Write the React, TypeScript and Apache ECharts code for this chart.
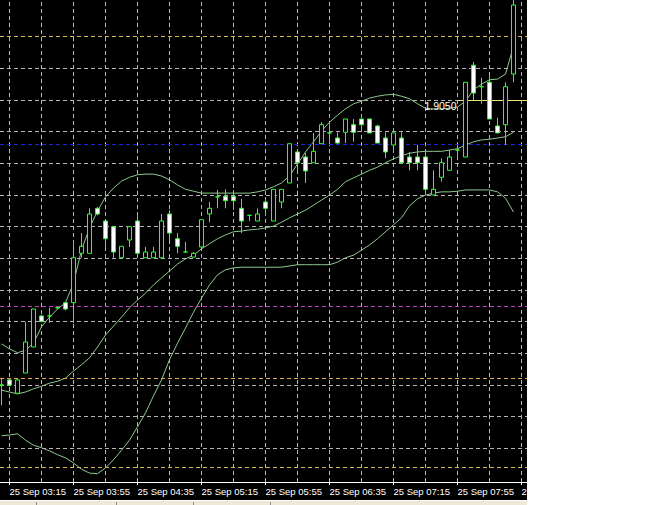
import React, { useEffect, useRef } from "react";
import * as echarts from "echarts";

// 5-minute candles, 25 Sep
const times = [
  "03:10", "03:15", "03:20", "03:25", "03:30", "03:35", "03:40", "03:45", "03:50", "03:55",
  "04:00", "04:05", "04:10", "04:15", "04:20", "04:25", "04:30", "04:35", "04:40", "04:45",
  "04:50", "04:55", "05:00", "05:05", "05:10", "05:15", "05:20", "05:25", "05:30", "05:35",
  "05:40", "05:45", "05:50", "05:55", "06:00", "06:05", "06:10", "06:15", "06:20", "06:25",
  "06:30", "06:35", "06:40", "06:45", "06:50", "06:55", "07:00", "07:05", "07:10", "07:15",
  "07:20", "07:25", "07:30", "07:35", "07:40", "07:45", "07:50", "07:55", "08:00", "08:05",
  "08:10", "08:15", "08:20", "08:25", "08:30",
];

const opens = [
  1.9005, 1.90058, 1.90037, 1.90069, 1.9011, 1.90159, 1.90159, 1.90172, 1.9018, 1.9018,
  1.90258, 1.90258, 1.90329, 1.90309, 1.903, 1.90251, 1.90279, 1.90309, 1.90251, 1.90251,
  1.90251, 1.9032, 1.90281, 1.9026, 1.90252, 1.90268, 1.9032, 1.90347, 1.90348, 1.90348,
  1.90329, 1.90318, 1.90309, 1.90339, 1.90309, 1.90339, 1.90369, 1.90418, 1.9041, 1.90401,
  1.90431, 1.90448, 1.9044, 1.90449, 1.90461, 1.9047, 1.9047, 1.90459, 1.9044, 1.90429,
  1.9044, 1.9041, 1.9041, 1.9041, 1.9035, 1.90378, 1.90389, 1.90421, 1.9041, 1.90555,
  1.90521, 1.90528, 1.90459, 1.90461, 1.90541,
];
const closes = [
  1.9005, 1.9005, 1.90058, 1.90118, 1.9017, 1.9015, 1.90159, 1.90172, 1.9017, 1.90251,
  1.90269, 1.9032, 1.9032, 1.90281, 1.9026, 1.90269, 1.903, 1.90258, 1.9026, 1.9026,
  1.90309, 1.9029, 1.90269, 1.9026, 1.90258, 1.90311, 1.90329, 1.90347, 1.90341, 1.90341,
  1.90309, 1.90318, 1.9032, 1.90329, 1.90359, 1.90359, 1.90431, 1.90401, 1.90388, 1.90419,
  1.90461, 1.90448, 1.90432, 1.9047, 1.90449, 1.90461, 1.90448, 1.90432, 1.90418, 1.90448,
  1.90401, 1.90401, 1.90401, 1.90359, 1.90359, 1.90401, 1.9041, 1.90421, 1.90528, 1.90511,
  1.90521, 1.9047, 1.90448, 1.90521, 1.9065,
];
const lows = [
  1.90018, 1.90048, 1.90037, 1.90069, 1.9011, 1.9015, 1.90148, 1.9017, 1.90168, 1.90148,
  1.90251, 1.90258, 1.90318, 1.90268, 1.90251, 1.90251, 1.90268, 1.90251, 1.90251, 1.90251,
  1.90251, 1.90279, 1.90258, 1.9026, 1.90251, 1.90268, 1.90307, 1.90329, 1.90329, 1.90326,
  1.9029, 1.90309, 1.90309, 1.90318, 1.90309, 1.90329, 1.90369, 1.90389, 1.90369, 1.90401,
  1.90431, 1.90434, 1.90431, 1.90432, 1.90434, 1.90449, 1.90448, 1.90432, 1.90408, 1.90419,
  1.90401, 1.90389, 1.90389, 1.9035, 1.9035, 1.90371, 1.90389, 1.9041, 1.9041, 1.905,
  1.90494, 1.9047, 1.90448, 1.90429, 1.90528,
];
const highs = [
  1.9006, 1.9006, 1.90061, 1.9015, 1.9017, 1.90161, 1.90172, 1.90173, 1.90181, 1.90279,
  1.9029, 1.90329, 1.90331, 1.90311, 1.903, 1.90269, 1.90301, 1.90318, 1.90268, 1.90268,
  1.9032, 1.90326, 1.9029, 1.90276, 1.9026, 1.90311, 1.90339, 1.90358, 1.90359, 1.90358,
  1.90344, 1.90318, 1.90329, 1.90347, 1.90359, 1.90359, 1.90431, 1.90419, 1.90416, 1.90448,
  1.90465, 1.90465, 1.90449, 1.9047, 1.9047, 1.9047, 1.9047, 1.90461, 1.90449, 1.90448,
  1.90449, 1.90418, 1.90429, 1.90418, 1.90389, 1.90408, 1.90421, 1.90429, 1.90528, 1.9056,
  1.90535, 1.90539, 1.90472, 1.90528, 1.90658,
];

// Bollinger bands
const upperBand = [
  1.90115, 1.90107, 1.90101, 1.90105, 1.90116, 1.90142, 1.90157, 1.9017, 1.9018, 1.90211,
  1.90263, 1.90298, 1.90325, 1.90347, 1.90361, 1.90372, 1.90378, 1.90382, 1.90383, 1.90383,
  1.9038, 1.90374, 1.90366, 1.90359, 1.90356, 1.90353, 1.90353, 1.90353, 1.90353, 1.90353,
  1.90353, 1.90353, 1.90355, 1.90358, 1.90363, 1.90369, 1.9038, 1.90399, 1.90418, 1.90434,
  1.90451, 1.90465, 1.90476, 1.90486, 1.90494, 1.90498, 1.90503, 1.90506, 1.90508, 1.90509,
  1.90506, 1.90502, 1.90494, 1.90487, 1.90486, 1.90486, 1.90487, 1.90489, 1.90498, 1.90516,
  1.90525, 1.90532, 1.90533, 1.90541, 1.90585,
];
const middleBand = [
  1.90042, 1.90039, 1.90036, 1.90039, 1.90044, 1.90048, 1.90053, 1.90056, 1.90061, 1.90072,
  1.90082, 1.90093, 1.9011, 1.90129, 1.90143, 1.90157, 1.90172, 1.90184, 1.90195, 1.90208,
  1.90219, 1.9023, 1.90241, 1.90249, 1.90255, 1.90265, 1.90273, 1.90281, 1.90287, 1.90292,
  1.90293, 1.90295, 1.90296, 1.90298, 1.90301, 1.90307, 1.90314, 1.9032, 1.90326, 1.90334,
  1.90342, 1.9035, 1.90359, 1.90371, 1.90377, 1.90383, 1.90389, 1.90394, 1.90401, 1.90407,
  1.90412, 1.90416, 1.90418, 1.90419, 1.90419, 1.90419, 1.90421, 1.90423, 1.90429, 1.90434,
  1.90437, 1.90438, 1.9044, 1.90442, 1.90449,
];
const lowerBand = [
  1.8997, 1.89971, 1.89973, 1.89963, 1.89955, 1.89951, 1.89946, 1.8994, 1.89935, 1.89927,
  1.89917, 1.89911, 1.8991, 1.89919, 1.89932, 1.89947, 1.89963, 1.89984, 1.90006, 1.90033,
  1.90058, 1.9009, 1.90116, 1.9014, 1.90165, 1.90187, 1.90208, 1.90224, 1.90232, 1.90235,
  1.90236, 1.90236, 1.90236, 1.90236, 1.90236, 1.90236, 1.90238, 1.9024, 1.9024, 1.9024,
  1.9024, 1.9024, 1.90244, 1.90251, 1.90255, 1.90263, 1.90271, 1.90281, 1.90292, 1.90303,
  1.90314, 1.90333, 1.90344, 1.9035, 1.90353, 1.90355, 1.90355, 1.90356, 1.90358, 1.90358,
  1.90358, 1.90358, 1.90355, 1.90345, 1.90323,
];

// axis ticks / grid
const labelTimes = ["03:15", "03:55", "04:35", "05:15", "05:55", "06:35", "07:15", "07:55", "08:35"];
const gridTimes = [
  "03:15", "03:35", "03:55", "04:15", "04:35", "04:55", "05:15", "05:35", "05:55",
  "06:15", "06:35", "06:55", "07:15", "07:35", "07:55", "08:15", "08:35",
];
const gridPrices = [
  1.906, 1.9055, 1.905, 1.9045, 1.904, 1.9035, 1.903, 1.9025, 1.902, 1.9015,
  1.901, 1.9005, 1.9, 1.8995,
];

// drawn level lines
const orangeLevels = [1.906, 1.9006, 1.8992];
const blueLevel = 1.9043;
const magentaLevel = 1.90175;
const rayPrice = 1.905;
const rayStart = "07:55";

const X_MIN = 189.0625;
const X_MAX = 518.4375;
const Y_MIN = 1.898969;
const Y_MAX = 1.906579;

const toMin = (s: string) => parseInt(s.slice(0, 2), 10) * 60 + parseInt(s.slice(3), 10);
const fmt = (v: number) => {
  const h = Math.floor(v / 60);
  const m = Math.round(v - h * 60);
  return "25 Sep " + String(h).padStart(2, "0") + ":" + String(m).padStart(2, "0");
};

const GRID = "#b4b4b4";
const BAND = "#8fc88f";
const CANDLE = "#2cff2c";
const ORANGE = "#e0b050";

export default function App() {
  const ref = useRef<HTMLDivElement>(null);
  useEffect(() => {
    if (!ref.current) return;
    const chart = echarts.init(ref.current, undefined, { renderer: "svg" });
    const xs = times.map(toMin);
    const bandSeries = (name: string, vals: number[]) => ({
      name,
      type: "line",
      data: xs.map((x, i) => [x, vals[i]]),
      showSymbol: false,
      symbol: "none",
      silent: true,
      z: 3,
      lineStyle: { color: BAND, width: 1 },
    });
    const option: any = {
      animation: false,
      backgroundColor: "#ffffff",
      grid: { left: 0, top: 0, width: 527, height: 482, containLabel: false, outerBoundsMode: "none" },
      xAxis: {
        type: "value",
        min: X_MIN,
        max: X_MAX,
        axisLine: { show: true, onZero: false, lineStyle: { color: "#ffffff", width: 1 } },
        axisTick: { show: true, customValues: labelTimes.map(toMin), length: 3, lineStyle: { color: "#ffffff" } },
        axisLabel: {
          show: true,
          customValues: labelTimes.map(toMin),
          color: "#ffffff",
          fontSize: 9.5,
          fontFamily: "Liberation Sans",
          align: "left",
          margin: 4,
          formatter: (v: number) => fmt(v),
        },
        splitLine: { show: false },
      },
      yAxis: { type: "value", min: Y_MIN, max: Y_MAX, show: false, splitLine: { show: false } },
      graphic: [
        { type: "rect", z: -100, shape: { x: 0, y: 0, width: 527, height: 500 }, style: { fill: "#000000" }, silent: true },
        { type: "rect", z: -100, shape: { x: 0, y: 500, width: 527, height: 5 }, style: { fill: "#ece9d8" }, silent: true },
        { type: "line", z: -99, shape: { x1: 0, y1: 500.5, x2: 527, y2: 500.5 }, style: { stroke: "#ffffff", lineWidth: 1 }, silent: true },
        ...[36, 116, 193, 270].map((x) => ({
          type: "line",
          z: -99,
          shape: { x1: x + 0.5, y1: 502, x2: x + 0.5, y2: 505 },
          style: { stroke: "#8c8c8c", lineWidth: 1 },
          silent: true,
        })),
        { type: "rect", z: 100, shape: { x: 527, y: 0, width: 137, height: 505 }, style: { fill: "#ffffff" }, silent: true },
      ],
      series: [
        {
          name: "grid",
          type: "line",
          data: [],
          silent: true,
          z: 1,
          markLine: {
            silent: true,
            precision: 6,
            symbol: ["none", "none"],
            animation: false,
            label: { show: false },
            lineStyle: { color: GRID, width: 1, type: [4, 3] },
            data: [
              ...gridTimes.map((t) => ({ xAxis: toMin(t) })),
              ...gridPrices.map((p) => ({ yAxis: p })),
            ],
          },
        },
        {
          name: "levels",
          type: "line",
          data: [],
          silent: true,
          z: 2,
          markLine: {
            silent: true,
            precision: 6,
            symbol: ["none", "none"],
            animation: false,
            label: { show: false },
            data: [
              ...orangeLevels.map((p) => ({ yAxis: p, lineStyle: { color: ORANGE, width: 1, type: [4, 3] } })),
              { yAxis: blueLevel, lineStyle: { color: "#2020d8", width: 1, type: [4, 3] } },
              { yAxis: magentaLevel, lineStyle: { color: "#c040c0", width: 1, type: [4, 3] } },
              [
                { coord: [toMin(rayStart), rayPrice], lineStyle: { color: "#e8e870", width: 1, type: "solid" } },
                { coord: [X_MAX, rayPrice] },
              ],
            ],
          },
          markPoint: {
            symbol: "circle",
            symbolSize: 0,
            silent: true,
            animation: false,
            data: [{ coord: [toMin(rayStart), rayPrice], value: rayPrice }],
            label: {
              show: true,
              position: "left",
              distance: 1,
              offset: [0, 6],
              color: "#ffffff",
              fontSize: 10.5,
              fontFamily: "Liberation Sans",
              formatter: () => rayPrice.toFixed(4),
            },
          },
        },
        bandSeries("upper", upperBand),
        bandSeries("middle", middleBand),
        bandSeries("lower", lowerBand),
        {
          name: "price",
          type: "candlestick",
          z: 5,
          silent: true,
          barWidth: 4,
          data: xs.map((x, i) => [x, opens[i], closes[i], lows[i], highs[i]]),
          itemStyle: {
            color: "#000000",
            color0: "#ffffff",
            borderColor: CANDLE,
            borderColor0: CANDLE,
            borderColorDoji: CANDLE,
            borderWidth: 1,
          },
        },
      ],
    };
    chart.setOption(option);
    return () => chart.dispose();
  }, []);
  return <div ref={ref} style={{ position: "fixed", left: 0, top: 0, width: 664, height: 505 }} />;
}
